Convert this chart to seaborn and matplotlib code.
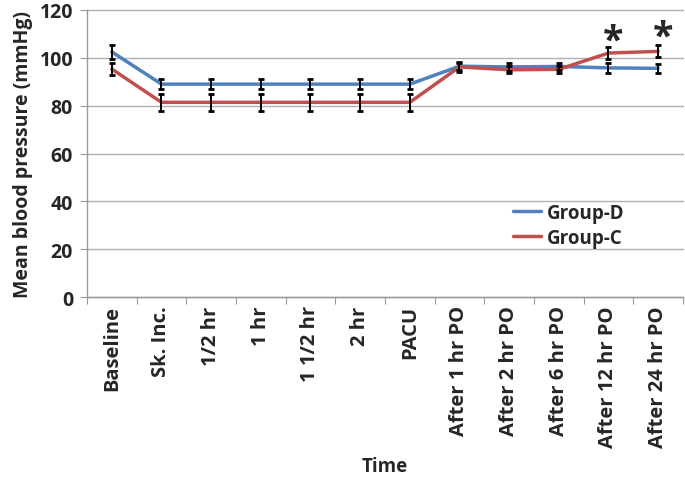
import numpy as np
import pandas as pd
import seaborn as sns
import matplotlib.pyplot as plt

times = ["Baseline", "Sk. Inc.", "1/2 hr", "1 hr", "1 1/2 hr", "2 hr", "PACU",
         "After 1 hr PO", "After 2 hr PO", "After 6 hr PO", "After 12 hr PO", "After 24 hr PO"]
group_d = [102.5, 89, 89, 89, 89, 89, 89, 96.5, 96.2, 96.4, 95.8, 95.6]
group_d_err = [3, 2, 2, 2, 2, 2, 2, 1.5, 1.5, 1.5, 2, 2]
group_c = [95.3, 81.4, 81.4, 81.4, 81.4, 81.4, 81.4, 96.2, 95, 95.2, 102, 102.7]
group_c_err = [2.5, 3.5, 3.5, 3.5, 3.5, 3.5, 3.5, 2, 1.5, 1.5, 2.5, 2.5]
star_idx = [10, 11]
star_y = [107, 108.5]

sns.set_style("white")
plt.rcParams['font.family'] = ['Open Sans', 'DejaVu Sans']
plt.rcParams['font.weight'] = 'bold'

x = np.arange(len(times))
df = pd.DataFrame({
    "pos": np.concatenate([x, x]),
    "value": group_d + group_c,
    "group": ["Group-D"] * len(x) + ["Group-C"] * len(x),
})

fig = plt.figure(figsize=(6.85, 4.81), dpi=100)
ax = fig.add_axes([87 / 685, 1 - 298 / 481, 596 / 685, 287 / 481])

palette = {"Group-D": "#4F81BD", "Group-C": "#C0504D"}
sns.lineplot(data=df, x="pos", y="value", hue="group", palette=palette,
             linewidth=2.5, ax=ax, zorder=3)

ax.errorbar(x, group_d, yerr=group_d_err, fmt="none", ecolor="black",
            elinewidth=1.4, capsize=2.5, capthick=2, zorder=4)
ax.errorbar(x, group_c, yerr=group_c_err, fmt="none", ecolor="black",
            elinewidth=1.4, capsize=2.5, capthick=2, zorder=4)

for i, sy in zip(star_idx, star_y):
    ax.text(x[i] + 0.1, sy, "*", ha="center", va="center", fontsize=27,
            fontweight="bold", clip_on=False)

ax.set_xlim(-0.5, len(times) - 0.5)
ax.set_ylim(0, 120)
ax.set_yticks(range(0, 121, 20))
ax.yaxis.grid(True, color="#b0b0b0", linewidth=1, clip_on=False)
ax.set_axisbelow(True)

ax.set_xticks(np.arange(-0.5, len(times), 1))
ax.set_xticklabels([])
ax.set_xticks(x, minor=True)
ax.set_xticklabels(times, minor=True, rotation=90)
for t in ax.get_xticklabels(minor=True):
    t.set_fontsize(14.5)
    t.set_fontweight("bold")
ax.tick_params(axis="x", which="minor", length=0, pad=6)
ax.tick_params(axis="x", which="major", length=5, color="#999999", direction="out")
ax.tick_params(axis="y", labelsize=14, length=5, color="#999999", direction="out", pad=5)
ax.tick_params(bottom=True, left=True)
for t in ax.get_yticklabels():
    t.set_fontweight("bold")

for s in ["top", "right"]:
    ax.spines[s].set_visible(False)
for s in ["left", "bottom"]:
    ax.spines[s].set_color("#999999")
    ax.spines[s].set_linewidth(1)

ax.set_xlabel("")
fig.text(385 / 685, 1 - 467 / 481, "Time", ha="center", va="center",
         fontsize=13.5, fontweight="bold")
ax.set_ylabel("Mean blood pressure (mmHg)", fontsize=14, fontweight="bold", labelpad=5)

leg = ax.legend(loc="center right", bbox_to_anchor=(0.93, 0.25), frameon=False,
                fontsize=13.5, handlelength=1.5, handletextpad=0.3, labelspacing=0.25)
for t in leg.get_texts():
    t.set_fontweight("bold")

fig.savefig("out.png", dpi=100)
